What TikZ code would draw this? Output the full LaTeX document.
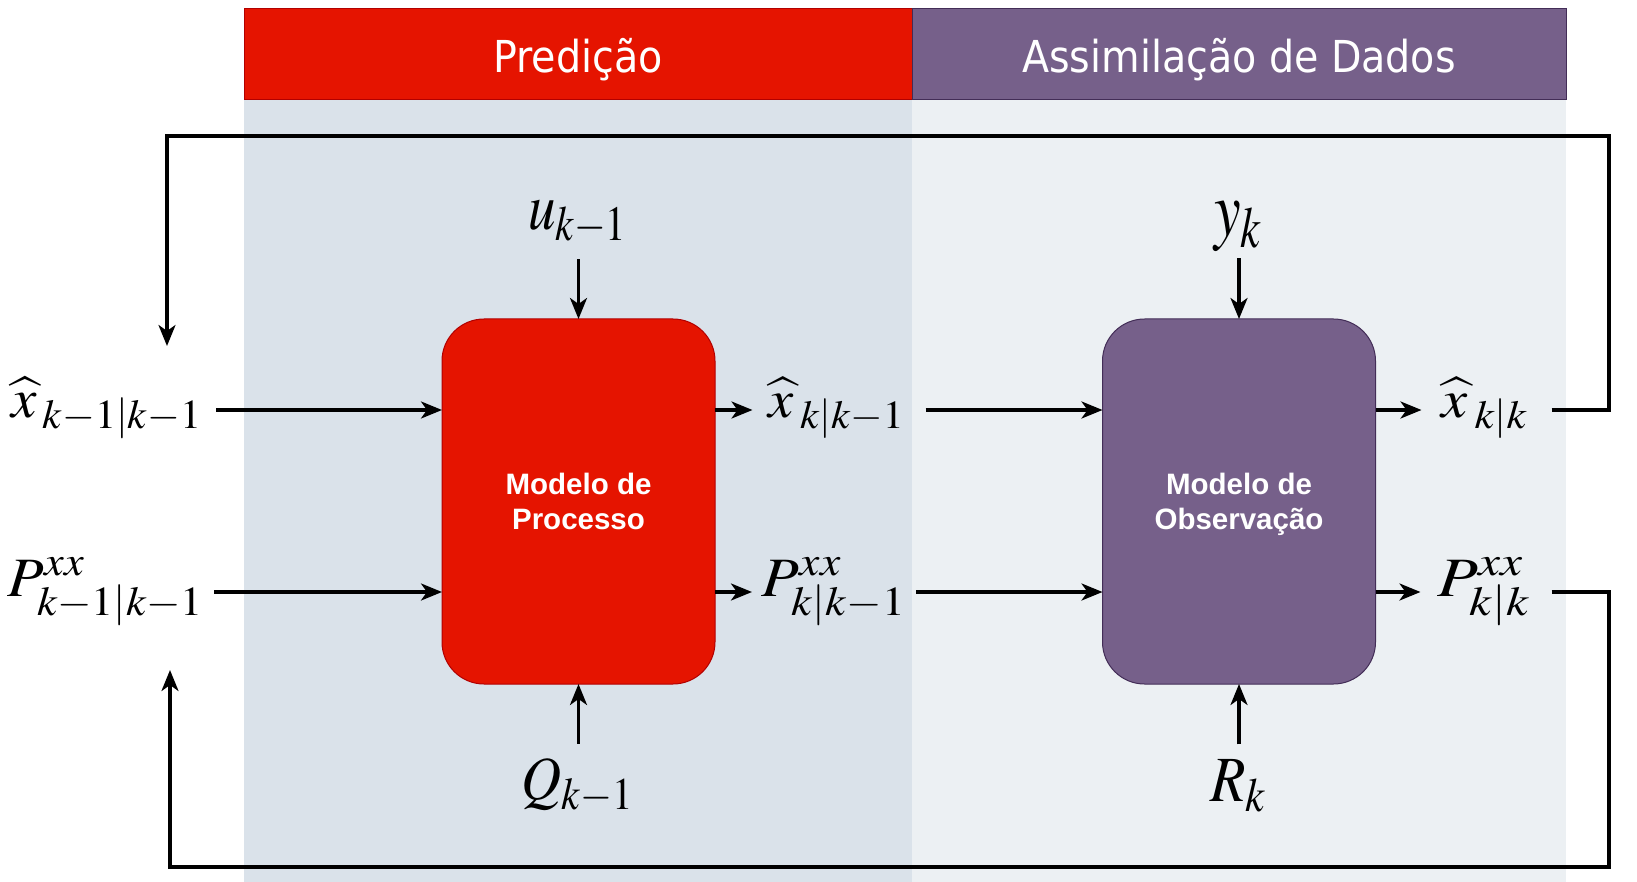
\documentclass[tikz,border=0pt]{standalone}
\usepackage{mathptmx}
\usepackage[no-math]{fontspec}
\usepackage{graphicx}
\usetikzlibrary{arrows.meta}
\newfontfamily\headfont{DejaVu Sans Condensed}
\newfontfamily\boxfont{Liberation Sans}
\definecolor{redfill}{HTML}{E51400}
\definecolor{redline}{HTML}{B20000}
\definecolor{purfill}{HTML}{76608A}
\definecolor{purline}{HTML}{432D57}
\definecolor{leftpanel}{HTML}{DAE2EA}
\definecolor{rightpanel}{HTML}{ECF0F3}
\newcommand\mlab[3]{\resizebox*{#1pt}{#2pt}{$#3$}}
\newcommand\xh{\widehat{\mkern1mu x\mkern2mu}}
\begin{document}
\begin{tikzpicture}[x=1pt,y=-1pt,
  hdr/.style={inner sep=0pt, outer sep=0pt, line width=0.8pt},
  hdrtext/.style={inner sep=0pt, outer sep=0pt, anchor=base, text=white,
    font=\headfont\fontsize{44}{50}\selectfont},
  panel/.style={inner sep=0pt, outer sep=0pt, draw=none},
  blk/.style={inner sep=0pt, outer sep=0pt, minimum width=273pt, minimum height=365pt,
    rounded corners=42pt, line width=1pt, text=white, align=center,
    font=\boxfont\bfseries\fontsize{29.5}{35}\selectfont},
  lab/.style={inner sep=0pt, outer sep=0pt},
  arr/.style={line width=3.2pt, -{Stealth[length=21pt,width=17pt,inset=6pt]}},
  fb/.style={line width=3.2pt, line join=miter}]
\useasboundingbox (0,0) rectangle (1637,882);
\fill[white] (0,0) rectangle (1637,882);
% panels
\node[panel, fill=leftpanel, minimum width=668pt, minimum height=783pt] (pleft) at (578,490.5) {};
\node[panel, fill=rightpanel, minimum width=654pt, minimum height=783pt] (pright) at (1239,490.5) {};
% headers
\node[hdr, fill=redfill, draw=redline, minimum width=668pt, minimum height=91pt] (hpred) at (578,53.5) {};
\node[hdr, fill=purfill, draw=purline, minimum width=654pt, minimum height=91pt] (hassim) at (1239,53.5) {};
\node[hdrtext] (tpred) at (578,73) {Predição};
\node[hdrtext] (tassim) at (1239,73) {Assimilação de Dados};
% blocks
\node[blk, fill=redfill, draw=redline] (proc) at (578.5,501.5) {Modelo de\\Processo};
\node[blk, fill=purfill, draw=purline] (obs) at (1239,501.5) {Modelo de\\Observa\smash{ç}ão};
% labels
\node[lab] (xa) at (106,408) {\mlab{196}{62}{\xh_{k-1|k-1}}};
\node[lab] (pa) at (107,592) {\mlab{198}{68}{P^{xx}_{k-1|k-1}}};
\node[lab] (u) at (578.5,223) {\mlab{101}{44}{u_{k-1}}};
\node[lab] (q) at (578.5,786) {\mlab{114}{55}{Q_{k-1}}};
\node[lab] (xb) at (836,408) {\mlab{141}{60}{\xh_{k|k-1}}};
\node[lab] (pb) at (835,592) {\mlab{146}{68}{P^{xx}_{k|k-1}}};
\node[lab] (y) at (1239,226) {\mlab{50}{50}{y_k}};
\node[lab] (r) at (1239,786) {\mlab{58}{53}{R_k}};
\node[lab] (xc) at (1484,408) {\mlab{91}{60}{\xh_{k|k}}};
\node[lab] (pc) at (1485,592) {\mlab{95}{68}{P^{xx}_{k|k}}};
% feedback corners
\coordinate (rt) at (1609,136);
\coordinate (lt) at (167,136);
\coordinate (rb) at (1609,867);
\coordinate (lb) at (170,867);
\coordinate (ya) at (0,410);
% arrows into process
\draw[arr] ([xshift=12pt]xa.east |- ya) -- (ya -| proc.west);
\draw[arr] ([xshift=8pt]pa.east) -- (pa.east -| proc.west);
\draw[arr] ([yshift=-14pt]u.south) -- (proc.north);
\draw[arr] ([yshift=15pt]q.north) -- (proc.south);
% arrows out of process
\draw[arr] (proc.east |- ya) -- ([xshift=-13pt]xb.west |- ya);
\draw[arr] (proc.east |- pb.west) -- ([xshift=-10pt]pb.west);
% into observation
\draw[arr] ([xshift=19pt]xb.east |- ya) -- (ya -| obs.west);
\draw[arr] ([xshift=8pt]pb.east) -- (pb.east -| obs.west);
\draw[arr] ([yshift=-7pt]y.south) -- (obs.north);
\draw[arr] ([yshift=15pt]r.north) -- (obs.south);
% out of observation
\draw[arr] (obs.east |- ya) -- ([xshift=-17pt]xc.west |- ya);
\draw[arr] (obs.east |- pc.west) -- ([xshift=-17pt]pc.west);
% feedback loops
\draw[fb, arr] ([xshift=22pt]xc.east |- ya) -- (ya -| rt) -- (rt) -- (lt) -- ([yshift=31pt]lt |- xa.north);
\draw[fb, arr] ([xshift=19pt]pc.east) -- (pc.east -| rb) -- (rb) -- (lb) -- ([yshift=-44pt]lb |- pa.south);
\end{tikzpicture}
\end{document}
